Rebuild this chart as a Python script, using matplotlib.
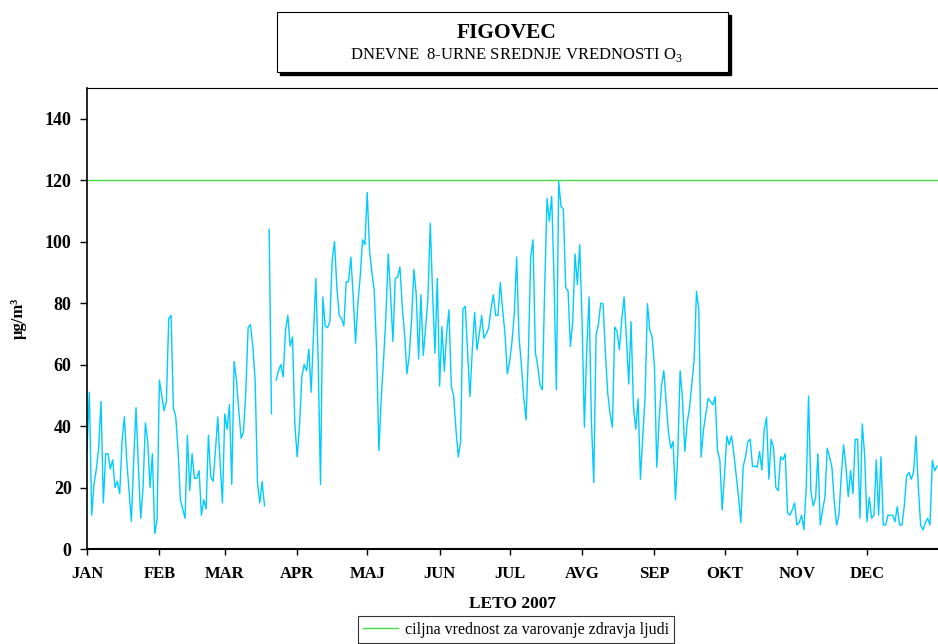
import numpy as np
import matplotlib
matplotlib.use('Agg')
import matplotlib.pyplot as plt
from matplotlib.patches import Rectangle
from matplotlib.lines import Line2D

plt.rcParams['font.family'] = ['Liberation Serif', 'DejaVu Serif']
plt.rcParams['mathtext.fontset'] = 'custom'
plt.rcParams['mathtext.rm'] = 'Liberation Serif'
plt.rcParams['mathtext.bf'] = 'Liberation Serif:bold'

nan = np.nan
# daily 8-hour mean O3 (ug/m3), one list per month
jan = [32, 51, 11, 21, 26, 33, 48, 15, 31, 31, 26, 29, 20, 22, 18, 35, 43, 29, 19, 9,
       29, 46, 27, 10, 20, 41, 35, 20, 31, 5, 9.5]
feb = [55, 50, 45, 48, 75, 76, 46, 43, 32, 16, 13, 10, 37, 19, 31, 23, 23, 25.5, 11, 16,
       13, 37, 23.5, 22, 32, 43, 28, 15]
mar = [44, 39, 47, 21, 61, 55, 45, 36, 38, 51, 72, 73, 66, 55, 21.6, 15, 22, 14, nan, 104,
       44, nan, 55, 58, 60, 56, 71, 76, 66, 69, 40.7]
apr = [30, 40, 56, 60, 58, 65, 51, 70, 88, 61, 21, 82, 72.6, 72, 74, 94, 100, 85, 76, 75,
       72.6, 87, 87, 95, 82, 67, 80, 88.7, 100.6, 99]
maj = [116, 97, 90, 84, 65, 32, 49, 61.6, 75.7, 96, 83, 67.5, 88, 88.5, 91.8, 79, 70, 57, 63, 74.6,
       91, 82.7, 61.8, 82.7, 63, 72, 81.7, 106, 83, 63.7, 88]
jun = [53, 72.4, 57.8, 70, 77.8, 53, 49.8, 39, 30, 35, 78, 79, 63.7, 49.6, 64.8, 77, 64.8, 70, 76, 68.6,
       70, 72, 78, 82.7, 76, 76, 86.7, 77.8, 70, 57]
jul = [61, 67.5, 76.8, 95, 69, 60, 49.6, 42, 63, 95, 100.6, 64, 59.6, 53.4, 51.8, 85, 114, 106.6, 114.8, 87.6,
       51.8, 119.6, 111.5, 110.6, 85, 84, 65.9, 74, 96, 86, 99]
avg = [74.6, 39.6, 64.8, 82, 42, 21.6, 69.7, 73, 80, 79.8, 63.7, 50.7, 44, 39.6, 72.2, 70.8, 64.8, 74.6, 82, 68.6,
       53.7, 74, 46.4, 39, 48.8, 22.7, 36.6, 49.6, 79.8, 71.3, 69]
sep = [59.4, 26.6, 42, 53, 58, 48, 38, 32.8, 35, 16, 31, 58, 49, 31.7, 41, 45.8, 53.7, 61.6, 83.8, 77.8,
       29.9, 38.8, 44, 49, 48, 46.9, 49.6, 32, 29, 12.7]
okt = [24, 36.8, 33.9, 36.8, 31, 24, 17, 8.6, 26.8, 30, 35, 35.7, 26.8, 27, 26.6, 31.7, 25.7, 38.8, 42.9, 22.7,
       35.7, 33, 20, 19, 30, 29, 31, 11.8, 11, 12.7, 15]
nov = [7.8, 8.6, 11, 6.2, 20, 49.8, 18.7, 14, 16.5, 31, 7.8, 12.7, 16.8, 32.8, 29.9, 26.6, 15.4, 7.8, 11, 24,
       33.9, 26.8, 17, 25.5, 18, 35.7, 35.7, 10, 40.7, 30.6]
dec = [8.9, 16.8, 10, 11, 29, 11, 30, 7.8, 7.8, 11, 11, 11, 8.9, 13.8, 7.8, 7.8, 14, 23.8, 24.9, 22.7,
       25.2, 36.8, 20, 7.8, 6.2, 8.6, 10, 7.8, 28.8, 25.5, 27]

months = [jan, feb, mar, apr, maj, jun, jul, avg, sep, okt, nov, dec]
month_labels = ['JAN', 'FEB', 'MAR', 'APR', 'MAJ', 'JUN', 'JUL', 'AVG', 'SEP', 'OKT', 'NOV', 'DEC']
target = 120

o3 = np.concatenate([np.array(m, dtype=float) for m in months])
days = np.arange(len(o3))
month_start = np.cumsum([0] + [len(m) for m in months[:-1]])

W, H = 938, 644
fig = plt.figure(figsize=(W / 100, H / 100), dpi=100)
ax = fig.add_axes([87 / W, 1 - 549 / H, 1 - 87 / W, (549 - 88) / H])

ax.plot(days, o3, color='#00CCFF', lw=1.0)
ax.axhline(target, color='#44DD44', lw=1.0)

ax.set_xlim(0, (W - 86.7) / 2.336)
ax.set_ylim(0, 150)
ax.set_yticks(range(0, 141, 20))
ax.set_xticks(month_start)
ax.set_xticklabels(month_labels)
for lab in ax.get_xticklabels():
    lab.set_fontweight('bold')
    lab.set_fontsize(12)
for lab in ax.get_yticklabels():
    lab.set_fontweight('bold')
    lab.set_fontsize(13)
ax.tick_params(axis='y', direction='out', length=5, width=1, pad=6)
ax.tick_params(axis='x', direction='out', length=4, width=1, pad=8)

ax.spines['right'].set_visible(False)
ax.spines['top'].set_linewidth(0.8)
ax.spines['left'].set_linewidth(1.2)
ax.spines['bottom'].set_linewidth(1.5)

ax.set_xlabel('LETO 2007', fontsize=12.5, fontweight='bold', labelpad=10)
fig.text(19 / W, 1 - 318 / H, 'µg/m³', rotation=90, fontsize=12, fontweight='bold',
         ha='center', va='center')

# title box with shadow
bx0, by0, bx1, by1 = 277, 12, 728, 72
fig.add_artist(Rectangle(((bx0 + 3) / W, 1 - (by1 + 3) / H), (bx1 - bx0) / W, (by1 - by0) / H,
                         transform=fig.transFigure, facecolor='black', edgecolor='black', zorder=1))
fig.add_artist(Rectangle((bx0 / W, 1 - by1 / H), (bx1 - bx0) / W, (by1 - by0) / H,
                         transform=fig.transFigure, facecolor='white', edgecolor='black', lw=0.8, zorder=2))
fig.text(507 / W, 1 - 33 / H, 'FIGOVEC', fontsize=15.5, fontweight='bold', ha='center', va='center', zorder=3)
fig.text(517 / W, 1 - 55 / H, 'DNEVNE  8-URNE SREDNJE VREDNOSTI O$_3$', fontsize=12,
         ha='center', va='center', zorder=3)

handle = Line2D([], [], color='#44DD44', lw=1.0)
leg = fig.legend([handle], ['ciljna vrednost za varovanje zdravja ljudi'], loc='upper center',
                 bbox_to_anchor=(516 / W, 1 - 616 / H), fancybox=False, fontsize=11.5,
                 handlelength=2.2, borderpad=0.35, handletextpad=0.4, borderaxespad=0)
leg.get_frame().set_edgecolor('black')
leg.get_frame().set_linewidth(0.8)

fig.savefig('out.png', dpi=100)
